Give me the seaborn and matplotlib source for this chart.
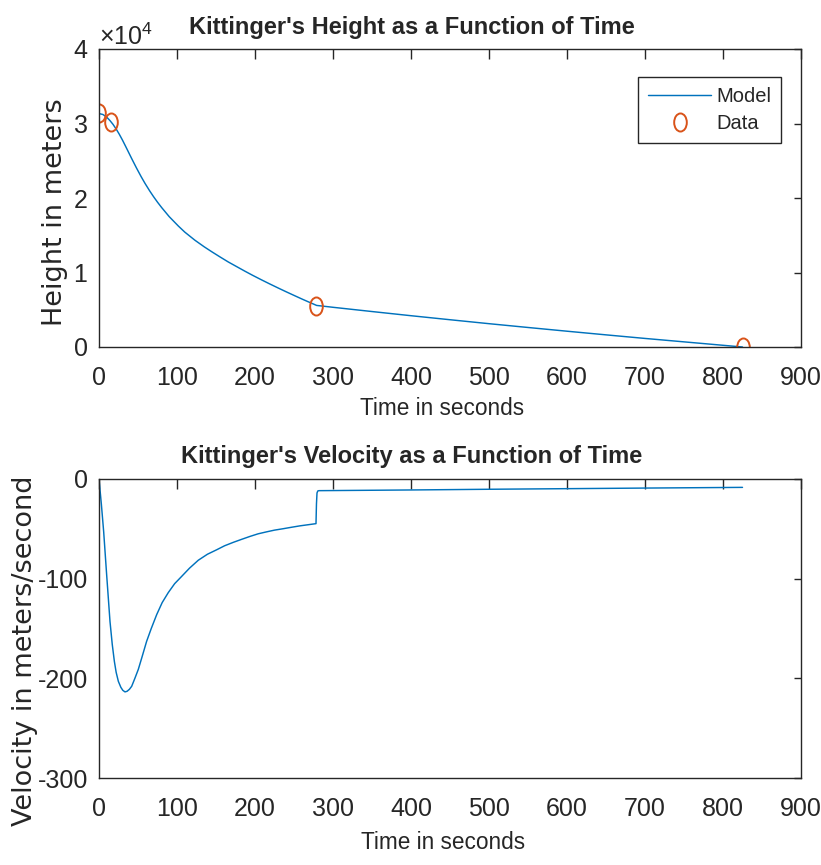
import numpy as np
import matplotlib
matplotlib.use("Agg")
import matplotlib.pyplot as plt
from matplotlib.path import Path
from matplotlib.transforms import Affine2D
from matplotlib.ticker import ScalarFormatter, MultipleLocator
import seaborn as sns

# ─────────────────────────────────────────────────────────────────────────────
#  Data
# ─────────────────────────────────────────────────────────────────────────────

# height model (s, m)
model_t = [0, 5, 10, 14, 18, 22.6, 26, 30, 34, 37.6, 42, 48, 54, 59, 65, 70,
           75, 80.3, 90, 101.7, 110, 123, 135, 144.5, 155, 165.8, 177, 187,
           197, 208.6, 219, 229.9, 240, 251, 260, 268, 274, 279, 285, 300,
           350, 400, 450, 500, 550, 600, 650, 700, 750, 800, 825]
model_h = [31333, 31210, 30840, 30400, 29880, 29160, 28560, 27790, 26960,
           26200, 25270, 24040, 22870, 21960, 20950, 20170, 19440, 18720,
           17500, 16240, 15420, 14330, 13440, 12790, 12100, 11410, 10760,
           10180, 9620, 9000, 8460, 7910, 7410, 6880, 6450, 6080, 5810, 5580,
           5510, 5330, 4760, 4200, 3660, 3130, 2620, 2120, 1630, 1150, 690,
           230, 0]

# observed data points
data_t = [0, 16, 278, 825]
data_h = [31400, 30200, 5560, 0]

# velocity model (s, m/s)
vel_t = [0, 3, 6, 9.8, 12, 14.1, 17, 19.7, 22, 24.8, 28, 30.5, 33.3, 36, 39,
         41.9, 46, 50.4, 55, 61, 67, 74, 81, 88.8, 97, 106, 116, 127.3, 139,
         150.9, 161, 172, 183, 193.6, 204, 215, 225, 236, 247, 257.7, 268,
         278.2, 278.8, 279.5, 280.5, 282, 350, 400, 500, 600, 700, 825]
vel_v = [0, -25, -53, -96, -120, -143, -166, -183, -194, -203, -209, -212,
         -213.6, -213, -211, -208, -200, -191, -179, -163, -150, -136, -124,
         -114, -105, -97.7, -89.5, -81.5, -75.5, -71, -67, -63.6, -60.5,
         -57.6, -55, -53, -51.3, -49.9, -48.4, -47, -45.9, -44.8, -25, -14,
         -12, -11.7, -11.3, -11.0, -10.3, -9.7, -9.1, -8.4]

BLUE   = "#0072BD"
ORANGE = "#D95319"
AXC    = "#262626"

sns.set_style("white")
plt.rcParams.update({
    "font.family": ["Liberation Sans", "DejaVu Sans"],
    "axes.unicode_minus": False,
    "mathtext.fontset": "custom",
    "mathtext.rm": "Liberation Sans",
    "mathtext.it": "Liberation Sans",
    "mathtext.sf": "Liberation Sans",
    "axes.edgecolor": AXC,
    "axes.linewidth": 1.0,
    "xtick.color": AXC,
    "ytick.color": AXC,
    "xtick.direction": "in",
    "ytick.direction": "in",
    "xtick.top": True,
    "ytick.right": True,
    "xtick.major.size": 7,
    "ytick.major.size": 5,
    "xtick.major.width": 1.0,
    "ytick.major.width": 1.0,
    "xtick.labelsize": 18,
    "ytick.labelsize": 18,
})

# tall/narrow open circle, like the squeezed MATLAB markers
ellipse = Path.unit_circle().transformed(Affine2D().scale(0.7, 1.0))

fig = plt.figure(figsize=(8.21, 8.65), dpi=100)
ax1 = fig.add_axes([99 / 821, 1 - 347 / 865, 702 / 821, 298 / 865])
ax2 = fig.add_axes([99 / 821, 1 - 778 / 865, 702 / 821, 299 / 865])

# ── Height ──
sns.lineplot(x=model_t, y=model_h, ax=ax1, color=BLUE, linewidth=1.05,
             sort=False, estimator=None, label="Model")
sns.lineplot(x=data_t, y=data_h, ax=ax1, estimator=None, sort=False,
             linestyle="", marker=ellipse, markersize=13,
             markerfacecolor="none", markeredgecolor=ORANGE,
             markeredgewidth=1.4, label="Data")

ax1.set_xlim(0, 900)
ax1.set_ylim(0, 40000)
ax1.xaxis.set_major_locator(MultipleLocator(100))
ax1.yaxis.set_major_locator(MultipleLocator(10000))
fmt = ScalarFormatter(useMathText=True)
fmt.set_powerlimits((0, 0))
ax1.yaxis.set_major_formatter(fmt)
ax1.yaxis.get_offset_text().set_fontsize(18)
ax1.set_title("Kittinger's Height as a Function of Time", fontsize=17,
              fontweight="bold", pad=11, x=0.445)
ax1.set_xlabel("Time in seconds", fontsize=16.3)
ax1.xaxis.set_label_coords(0.489, -0.168)
ax1.set_ylabel("Height in meters", fontsize=19.5, family="DejaVu Sans")
ax1.yaxis.set_label_coords(-0.044, 0.453)

leg = ax1.legend(loc="upper right", bbox_to_anchor=(0.9715, 0.906),
                 fontsize=14.5, frameon=True, fancybox=False, framealpha=1,
                 edgecolor=AXC, handlelength=3.1, handletextpad=0.25,
                 labelspacing=0.4, borderpad=0.5, borderaxespad=0)
leg.get_frame().set_linewidth(1.0)

# ── Velocity ──
sns.lineplot(x=vel_t, y=vel_v, ax=ax2, color=BLUE, linewidth=1.05,
             sort=False, estimator=None)
ax2.set_xlim(0, 900)
ax2.set_ylim(-300, 0)
ax2.xaxis.set_major_locator(MultipleLocator(100))
ax2.yaxis.set_major_locator(MultipleLocator(100))
ax2.set_title("Kittinger's Velocity as a Function of Time", fontsize=17,
              fontweight="bold", pad=11.5, x=0.445)
ax2.set_xlabel("Time in seconds", fontsize=16.3)
ax2.xaxis.set_label_coords(0.49, -0.177)
ax2.set_ylabel("Velocity in meters/second", fontsize=19.5,
               family="DejaVu Sans")
ax2.yaxis.set_label_coords(-0.087, 0.425)

for ax in (ax1, ax2):
    ax.tick_params(axis="x", pad=14)
    ax.tick_params(axis="y", pad=8)
    for s in ax.spines.values():
        s.set_visible(True)

fig.savefig("out.png", dpi=100)
